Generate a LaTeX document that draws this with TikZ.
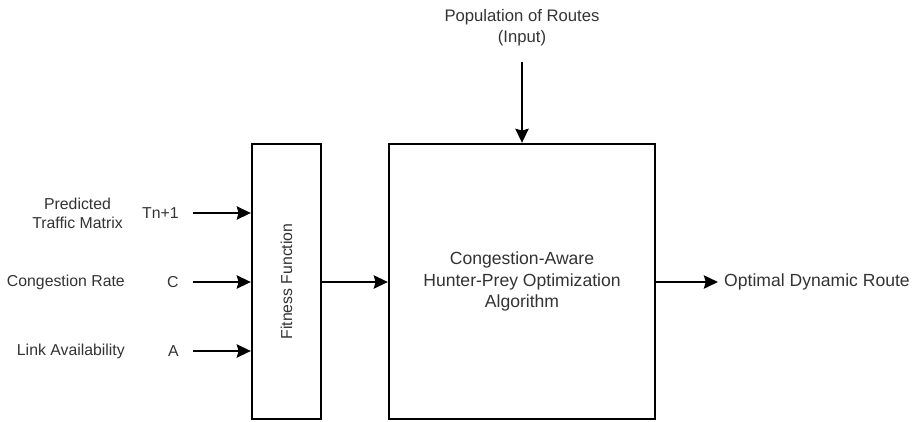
\documentclass[tikz,border=0pt]{standalone}
\usepackage{fontspec}
\setmainfont{Liberation Sans}
\usepackage{tikz}
\usetikzlibrary{arrows.meta}
\tikzstyle{blockbox} = [draw=black, fill=white, line width=1.3pt,
    rectangle, inner sep=0pt]
\tikzstyle{plaintext} = [font=\fontsize{9}{11}\selectfont, text=black!80, align=center]
\tikzstyle{bigtext} = [font=\fontsize{10}{12}\selectfont, text=black!80, align=center]
\tikzstyle{arr} = [line width=1.3pt, -{Stealth[length=8pt,width=7.5pt,inset=1pt]}]

\begin{document}
\begin{tikzpicture}
\useasboundingbox (0,0) rectangle (18.42,8.42);
\node [blockbox, minimum width=1.38cm, minimum height=5.5cm] (fit) at (5.73,2.79) {};
\node [plaintext, rotate=90] (fittext) at (fit.center) {Fitness Function};
\node [blockbox, minimum width=5.32cm, minimum height=5.5cm, bigtext] (hpo) at (10.44,2.79)
    {Congestion-Aware\\Hunter-Prey Optimization\\Algorithm};
\node [bigtext, font=\fontsize{9.5}{12}\selectfont] (pop) at (10.44,7.87) {Population of Routes\\(Input)};
\coordinate (popend) at (10.44,7.18);
\node [plaintext, anchor=east] (tmname) at (2.58,4.15) {Predicted\\Traffic Matrix};
\node [plaintext, anchor=east] (crname) at (2.62,2.78) {Congestion Rate};
\node [plaintext, anchor=east] (laname) at (2.62,1.40) {Link Availability};
\node [plaintext, anchor=east, inner xsep=8pt] (tn) at (3.86,4.16) {Tn+1};
\node [plaintext, anchor=east, inner xsep=8pt] (cc) at (3.86,2.78) {C};
\node [plaintext, anchor=east, inner xsep=8pt] (aa) at (3.86,1.40) {A};
\node [bigtext, anchor=west] (out) at (14.36,2.78) {Optimal Dynamic Route};
\draw [arr] (popend) -- (hpo.north);
\draw [arr] (tn.east) -- (tn.east -| fit.west);
\draw [arr] (cc.east) -- (cc.east -| fit.west);
\draw [arr] (aa.east) -- (aa.east -| fit.west);
\draw [arr] (fit.east |- cc.east) -- (hpo.west |- cc.east);
\draw [arr] (hpo.east |- out.west) -- (out.west);
\end{tikzpicture}
\end{document}
